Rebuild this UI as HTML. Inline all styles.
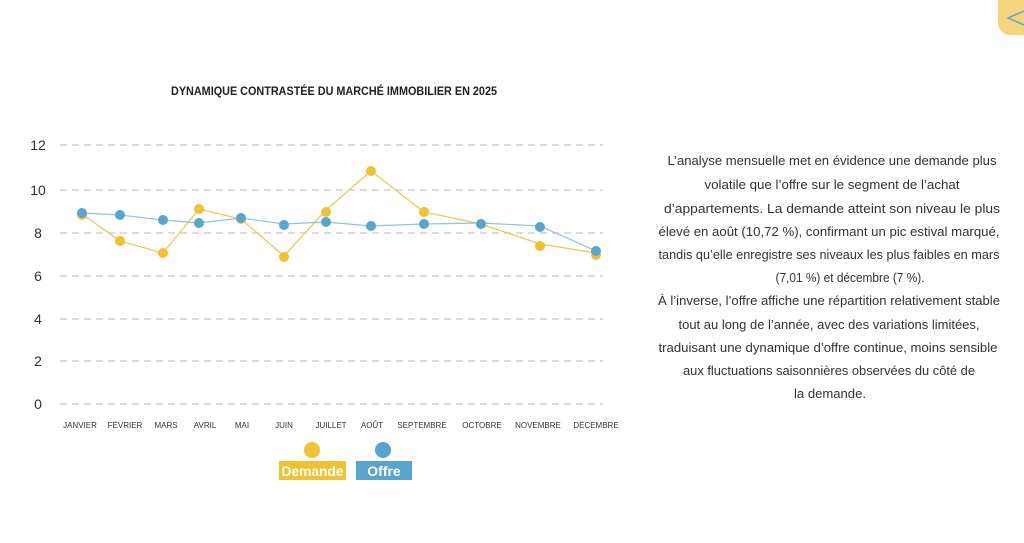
<!DOCTYPE html>
<html><head><meta charset="utf-8"><style>
html,body{margin:0;padding:0;background:#fff;}
svg{display:block;font-family:"Liberation Sans",sans-serif;}
</style></head><body>
<svg width="1024" height="543" viewBox="0 0 1024 543">
<path d="M998 0 H1024 V35 H1010 A12 12 0 0 1 998 23 Z" fill="#f5d67e"/>
<path d="M1024 11 L1008 18 L1024 25" fill="none" stroke="#5fa6d2" stroke-width="1.5"/>
<text x="334" y="95" text-anchor="middle" font-size="11.5" font-weight="bold" fill="#222" textLength="326" lengthAdjust="spacingAndGlyphs">DYNAMIQUE CONTRASTÉE DU MARCHÉ IMMOBILIER EN 2025</text>
<g stroke="#c8c8d0" stroke-width="1.2" stroke-dasharray="7,5">
<line x1="60" x2="603" y1="145" y2="145"/><line x1="60" x2="603" y1="190" y2="190"/>
<line x1="60" x2="603" y1="233" y2="233"/><line x1="60" x2="603" y1="276" y2="276"/>
<line x1="60" x2="603" y1="319" y2="319"/><line x1="60" x2="603" y1="361" y2="361"/>
<line x1="60" x2="603" y1="404" y2="404"/>
</g>
<g font-size="14" fill="#333" text-anchor="middle">
<text x="38" y="150">12</text><text x="38" y="195">10</text><text x="38" y="238">8</text>
<text x="38" y="281">6</text><text x="38" y="324">4</text><text x="38" y="366">2</text><text x="38" y="409">0</text>
</g>
<g font-size="8" fill="#333" text-anchor="middle">
<text x="80" y="428">JANVIER</text><text x="125" y="428">FÉVRIER</text><text x="166" y="428">MARS</text>
<text x="205" y="428">AVRIL</text><text x="242" y="428">MAI</text><text x="284" y="428">JUIN</text>
<text x="331" y="428">JUILLET</text><text x="372" y="428">AOÛT</text><text x="422" y="428">SEPTEMBRE</text>
<text x="482" y="428">OCTOBRE</text><text x="538" y="428">NOVEMBRE</text><text x="596" y="428">DÉCEMBRE</text>
</g>
<polyline fill="none" stroke="#f0c845" stroke-width="1.2" points="82,214 120,241 163,253 199,209 241,219 284,256 326,210 371,171 424,212 481,224 540,244 596,253"/>
<polyline fill="none" stroke="#8ec3e2" stroke-width="1.2" points="82,213 120,215 163,220 199,223 241,218 284,224 326,222 371,226 424,224 481,223 540,226 596,251"/>
<g fill="#f0c232">
<circle cx="82" cy="215" r="5"/><circle cx="120" cy="241" r="5"/><circle cx="163" cy="253" r="5"/><circle cx="199" cy="209" r="5"/><circle cx="241" cy="219" r="5"/><circle cx="284" cy="257" r="5"/><circle cx="326" cy="212" r="5"/><circle cx="371" cy="171" r="5"/><circle cx="424" cy="212" r="5"/><circle cx="481" cy="224" r="5"/><circle cx="540" cy="246" r="5"/><circle cx="596" cy="255" r="5"/>
</g>
<g fill="#5aa5d0">
<circle cx="82" cy="213" r="5"/><circle cx="120" cy="215" r="5"/><circle cx="163" cy="220" r="5"/><circle cx="199" cy="223" r="5"/><circle cx="241" cy="218" r="5"/><circle cx="284" cy="225" r="5"/><circle cx="326" cy="222" r="5"/><circle cx="371" cy="226" r="5"/><circle cx="424" cy="224" r="5"/><circle cx="481" cy="224" r="5"/><circle cx="540" cy="227" r="5"/><circle cx="596" cy="251" r="5"/>
</g>
<circle cx="312" cy="450" r="8" fill="#f0c232"/>
<circle cx="383" cy="450" r="8" fill="#5aa5d0"/>
<rect x="279" y="461" width="67" height="19" fill="#f0c232"/>
<rect x="356" y="461" width="56" height="19" fill="#5aa5d0"/>
<text x="312.5" y="476" text-anchor="middle" font-size="14" font-weight="bold" fill="#fff" textLength="62" lengthAdjust="spacingAndGlyphs">Demande</text>
<text x="384" y="476" text-anchor="middle" font-size="14" font-weight="bold" fill="#fff">Offre</text>
<g font-size="13" fill="#333" text-anchor="middle">
<text x="832" y="165" textLength="329" lengthAdjust="spacingAndGlyphs">L’analyse mensuelle met en évidence une demande plus</text>
<text x="832" y="189" textLength="255" lengthAdjust="spacingAndGlyphs">volatile que l’offre sur le segment de l’achat</text>
<text x="832" y="213" textLength="336" lengthAdjust="spacingAndGlyphs">d’appartements. La demande atteint son niveau le plus</text>
<text x="829" y="236" textLength="341" lengthAdjust="spacingAndGlyphs">élevé en août (10,72 %), confirmant un pic estival marqué,</text>
<text x="829" y="259" textLength="341" lengthAdjust="spacingAndGlyphs">tandis qu’elle enregistre ses niveaux les plus faibles en mars</text>
<text x="850" y="282" textLength="149" lengthAdjust="spacingAndGlyphs">(7,01 %) et décembre (7 %).</text>
<text x="829" y="305" textLength="342" lengthAdjust="spacingAndGlyphs">À l’inverse, l’offre affiche une répartition relativement stable</text>
<text x="829" y="329" textLength="301" lengthAdjust="spacingAndGlyphs">tout au long de l’année, avec des variations limitées,</text>
<text x="828" y="352" textLength="339" lengthAdjust="spacingAndGlyphs">traduisant une dynamique d’offre continue, moins sensible</text>
<text x="829" y="375" textLength="292" lengthAdjust="spacingAndGlyphs">aux fluctuations saisonnières observées du côté de</text>
<text x="830" y="398" textLength="72" lengthAdjust="spacingAndGlyphs">la demande.</text>
</g>
</svg>
</body></html>
